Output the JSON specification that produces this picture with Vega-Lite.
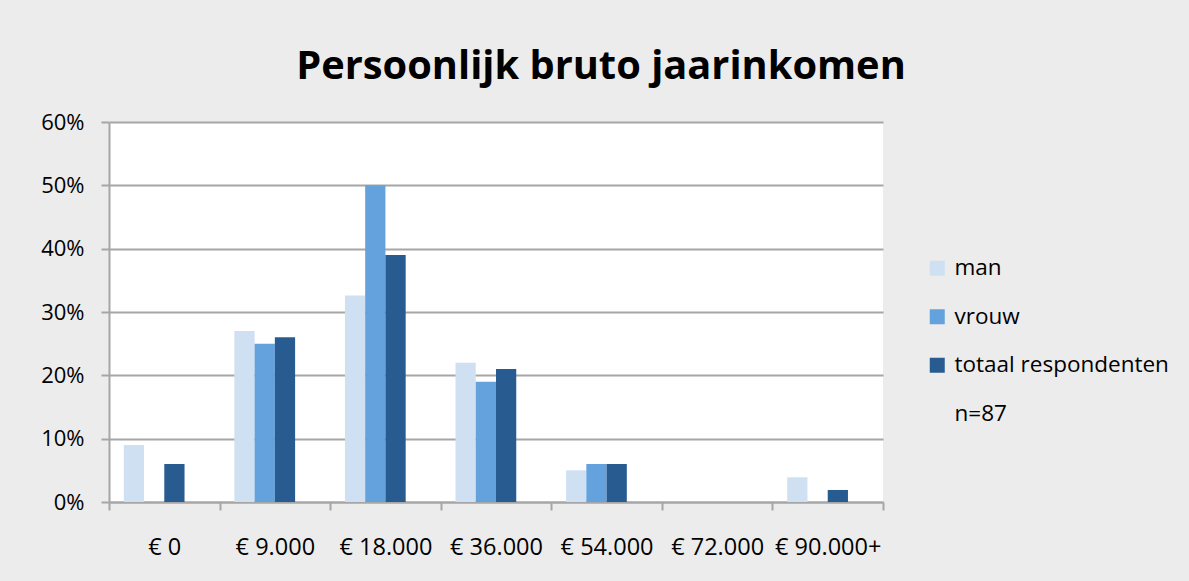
{
  "$schema": "https://vega.github.io/schema/vega-lite/v6.json",
  "autosize": {"type": "none"},
  "padding": {"left": 109, "top": 122, "right": 306, "bottom": 79},
  "width": 774,
  "height": 380,
  "background": "#ececec",
  "title": {
    "text": "Persoonlijk bruto jaarinkomen",
    "fontSize": 39.8,
    "fontWeight": "bold",
    "color": "black",
    "anchor": "middle",
    "frame": "group",
    "baseline": "alphabetic",
    "offset": -8,
    "dx": 105
  },
  "data": {
    "values": [
      {"inkomen": "€ 0", "groep": "man", "aandeel": 0.09},
      {"inkomen": "€ 0", "groep": "vrouw", "aandeel": 0},
      {"inkomen": "€ 0", "groep": "totaal respondenten", "aandeel": 0.06},
      {"inkomen": "€ 9.000", "groep": "man", "aandeel": 0.27},
      {"inkomen": "€ 9.000", "groep": "vrouw", "aandeel": 0.25},
      {"inkomen": "€ 9.000", "groep": "totaal respondenten", "aandeel": 0.26},
      {"inkomen": "€ 18.000", "groep": "man", "aandeel": 0.326},
      {"inkomen": "€ 18.000", "groep": "vrouw", "aandeel": 0.50},
      {"inkomen": "€ 18.000", "groep": "totaal respondenten", "aandeel": 0.39},
      {"inkomen": "€ 36.000", "groep": "man", "aandeel": 0.22},
      {"inkomen": "€ 36.000", "groep": "vrouw", "aandeel": 0.19},
      {"inkomen": "€ 36.000", "groep": "totaal respondenten", "aandeel": 0.21},
      {"inkomen": "€ 54.000", "groep": "man", "aandeel": 0.05},
      {"inkomen": "€ 54.000", "groep": "vrouw", "aandeel": 0.06},
      {"inkomen": "€ 54.000", "groep": "totaal respondenten", "aandeel": 0.06},
      {"inkomen": "€ 72.000", "groep": "man", "aandeel": 0},
      {"inkomen": "€ 72.000", "groep": "vrouw", "aandeel": 0},
      {"inkomen": "€ 72.000", "groep": "totaal respondenten", "aandeel": 0},
      {"inkomen": "€ 90.000+", "groep": "man", "aandeel": 0.039},
      {"inkomen": "€ 90.000+", "groep": "vrouw", "aandeel": 0},
      {"inkomen": "€ 90.000+", "groep": "totaal respondenten", "aandeel": 0.019}
    ]
  },
  "mark": {"type": "bar"},
  "encoding": {
    "x": {
      "field": "inkomen",
      "type": "nominal",
      "sort": ["€ 0", "€ 9.000", "€ 18.000", "€ 36.000", "€ 54.000", "€ 72.000", "€ 90.000+"],
      "scale": {"paddingInner": 0, "paddingOuter": 0},
      "axis": {
        "title": null,
        "labelAngle": 0,
        "labelFontSize": 23.5,
        "labelColor": "black",
        "labelPadding": 25,
        "tickBand": "extent",
        "tickSize": 8,
        "tickWidth": 2,
        "tickColor": "#a6a6a6",
        "domainColor": "#a6a6a6",
        "domainWidth": 2,
        "grid": false
      }
    },
    "xOffset": {
      "field": "groep",
      "type": "nominal",
      "scale": {"domain": ["man", "vrouw", "totaal respondenten", "n=87"], "paddingInner": 0, "paddingOuter": 0.73}
    },
    "y": {
      "field": "aandeel",
      "type": "quantitative",
      "scale": {"domain": [0, 0.6], "nice": false},
      "axis": {
        "title": null,
        "values": [0, 0.1, 0.2, 0.3, 0.4, 0.5, 0.6],
        "format": ".0%",
        "labelFontSize": 22,
        "labelColor": "black",
        "labelPadding": 17,
        "tickSize": 8,
        "tickWidth": 2,
        "tickColor": "#a6a6a6",
        "domainColor": "#a6a6a6",
        "domainWidth": 2,
        "gridColor": "#a6a6a6",
        "gridWidth": 2
      }
    },
    "color": {
      "field": "groep",
      "type": "nominal",
      "scale": {
        "domain": ["man", "vrouw", "totaal respondenten", "n=87"],
        "range": ["#cfe0f3", "#64a2de", "#285c91", "rgba(0,0,0,0)"]
      },
      "legend": {
        "title": null,
        "orient": "none",
        "legendX": 817,
        "legendY": 135,
        "symbolType": "square",
        "symbolSize": 225,
        "symbolStrokeWidth": 0,
        "labelFontSize": 22.5,
        "labelColor": "black",
        "labelOffset": 6,
        "labelLimit": 400,
        "rowPadding": 25.5
      }
    }
  },
  "config": {
    "font": "Open Sans",
    "view": {"fill": "white", "stroke": null}
  }
}
